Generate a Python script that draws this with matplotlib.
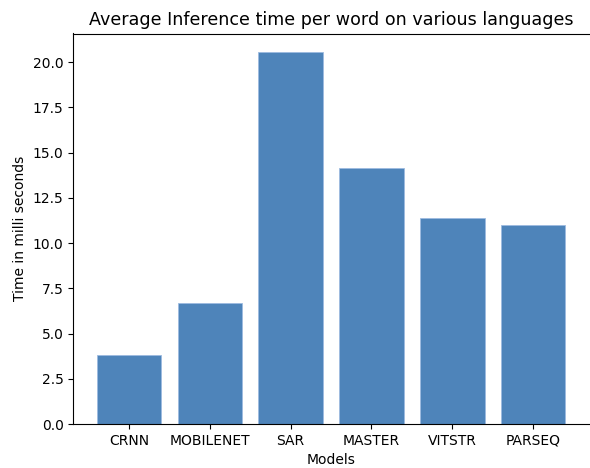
import numpy as np
import matplotlib
matplotlib.use('Agg')
import matplotlib.pyplot as plt

''' data read off the reference '''
models = ['CRNN', 'MOBILENET', 'SAR', 'MASTER', 'VITSTR', 'PARSEQ']
times = [3.81, 6.67, 20.55, 14.14, 11.38, 10.98]

fig = plt.figure(figsize=(5.9, 4.68), dpi=100)
# right edge of the axes box is cut off in the reference
ax = fig.add_axes([73.3/590, 1 - 424/468, 515.5/590, 390.5/468])

ax.bar(models, times, color='#4e84ba', edgecolor='#9dbbe0', linewidth=0.6)

ax.set_title('Average Inference time per word on various languages', fontsize=12.6)
ax.set_xlabel('Models')
ax.set_ylabel('Time in milli seconds')
ax.spines['right'].set_visible(False)

fig.savefig('out.png', dpi=100)
